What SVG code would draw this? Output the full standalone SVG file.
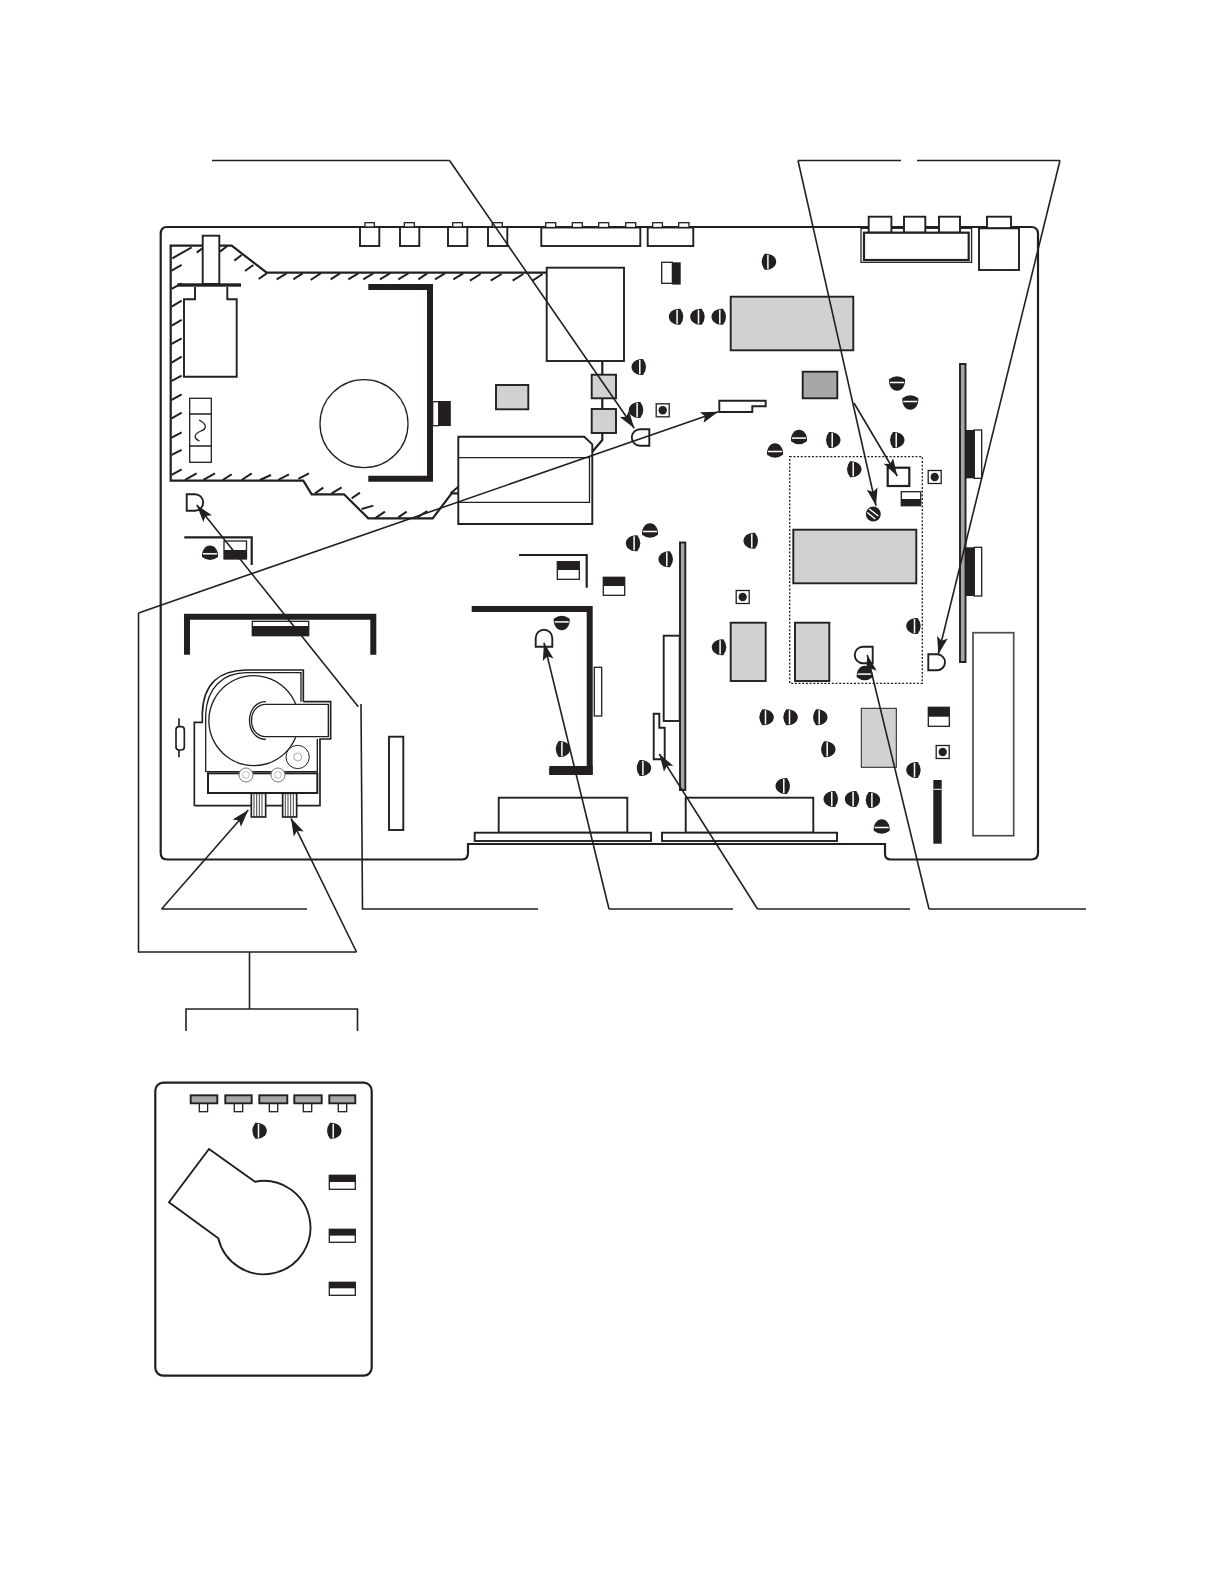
<svg xmlns="http://www.w3.org/2000/svg" width="1225" height="1585" viewBox="0 0 1225 1585">
<style>
.o{fill:none;stroke:#231f20;stroke-width:1.9}
.t{fill:none;stroke:#231f20;stroke-width:1.3}
.w{fill:#fff;stroke:#231f20;stroke-width:1.9}
.v{fill:#fff;stroke:#231f20;stroke-width:1.3}
.g{fill:#d1d1d1;stroke:#231f20;stroke-width:1.9}
.d{fill:#a7a7a7;stroke:#231f20;stroke-width:1.9}
.k{fill:#231f20}
.b{fill:none;stroke:#231f20;stroke-width:6;stroke-linejoin:miter}
.l{fill:none;stroke:#231f20;stroke-width:1.6}
.a{fill:none;stroke:#231f20;stroke-width:1.6;marker-end:url(#ah)}
.h{stroke-width:2.2}
</style>
<defs>
<marker id="ah" markerUnits="userSpaceOnUse" markerWidth="20" markerHeight="14" refX="19" refY="7" orient="auto" viewBox="0 0 20 14"><path d="M19,7 L1.500,1.500 L5,7 L1.500,12.500 Z" fill="#231f20"/></marker>
<g id="s"><path class="k" d="M-4,-8 C3,-8.500 7.500,-4.500 7.500,0 C7.500,4.500 3,8.500 -4,8 Q-7,4 -7,0 Q-7,-4 -4,-8 Z"/><path d="M-0.800,-7 V7" stroke="#fff" stroke-width="1.500"/></g>
<g id="p"><rect x="-6.500" y="-6.500" width="13" height="13" class="v"/><circle r="4.200" class="k"/></g>
</defs>
<rect width="1225" height="1585" fill="#fff"/>

<g id="board">
<path class="o h" d="M167,227 H1031 Q1038,227 1038,234 V853 Q1038,859.500 1031,859.500 H891 Q885,859.500 885,854 V844 H468 V853 Q468,859.500 462,859.500 H167 Q160.700,859.500 160.700,853 V234 Q160.700,227 167,227 Z"/>
</g>

<g id="hatched-area">
<path class="o h" d="M546.700,272.700 H266.700 L231.700,245.700 H170.700 V480.700 H303.300 L311.700,494.300 H344 L368.300,518.300 H432.700 L451.700,493.300 H458.300"/>
<g transform="translate(140,210) scale(.3333)" fill="none" stroke="#231f20" stroke-width="6">
<path d="M97,145 L155,112 M170,128 L186,116 M240,125 L262,108 M283,152 L305,135 M315,183 L340,165 M356,207 L380,190 M410,208 L440,190 M460,208 L488,190 M512,210 L542,190 M572,208 L600,190 M625,208 L655,190 M670,208 L700,190 M720,208 L750,190 M775,208 L805,190 M835,208 L862,190 M885,208 L915,190 M940,208 L970,190 M990,212 L1022,192 M1052,212 L1085,192 M1118,212 L1150,192 M1178,212 L1208,192"/>
<path d="M95,182 L125,165 M95,237 L125,220 M95,290 L125,272 M95,347 L125,330 M95,402 L125,385 M95,458 L125,440 M95,513 L125,497 M95,570 L125,553 M95,625 L125,608 M95,683 L125,667 M95,735 L125,720 M95,795 L125,778"/>
<path d="M135,810 L170,790 M190,810 L225,790 M248,810 L275,793 M305,810 L335,790 M360,810 L393,795 M415,810 L447,793 M475,807 L507,790 M525,850 L550,833 M575,850 L605,832 M635,865 L660,848 M665,897 L700,887 M705,925 L735,905 M775,922 L800,905 M832,922 L862,903 M932,850 L955,830"/>
</g>
</g>

<g id="top-connectors">
<g id="jack-1"><rect class="w" x="360" y="227" width="19.300" height="19"/><rect class="v" x="365" y="222.700" width="9.300" height="4.300"/></g>
<g id="jack-2"><rect class="w" x="400" y="227" width="19.300" height="19"/><rect class="v" x="404.300" y="222.700" width="10" height="4.300"/></g>
<g id="jack-3"><rect class="w" x="448" y="227" width="19.300" height="19"/><rect class="v" x="452.700" y="222.700" width="9.700" height="4.300"/></g>
<g id="jack-4"><rect class="w" x="488" y="227" width="19.300" height="19"/><rect class="v" x="492.300" y="222.700" width="10" height="4.300"/></g>
<g id="conn-5"><rect class="w" x="541.300" y="227.500" width="99" height="18.500"/>
<rect class="v" x="545.700" y="222.700" width="10" height="4.800"/><rect class="v" x="572.300" y="222.700" width="10" height="4.800"/><rect class="v" x="598.700" y="222.700" width="10" height="4.800"/><rect class="v" x="625.700" y="222.700" width="10" height="4.800"/></g>
<g id="conn-6"><rect class="w" x="647.700" y="227.500" width="45.600" height="18.500"/><rect class="v" x="652.700" y="222.700" width="9.700" height="4.800"/><rect class="v" x="678.700" y="222.700" width="10.300" height="4.800"/></g>
<g id="rca-block"><rect class="v" x="861" y="228.300" width="110.600" height="34"/>
<rect class="w" x="868.700" y="216.700" width="22.700" height="16"/><rect class="w" x="904" y="216.700" width="21.300" height="16"/><rect class="w" x="939" y="216.700" width="21" height="16"/>
<rect class="w h" x="864" y="232.700" width="104.700" height="27.300"/></g>
<g id="jack-right"><rect class="w" x="987" y="216.700" width="24" height="11.700"/><rect class="w" x="979" y="228.300" width="40" height="41.700"/></g>
</g>

<g id="stem-assembly">
<rect class="w" x="202.700" y="235.700" width="16.600" height="48.300"/>
<rect class="k" x="177.300" y="283.300" width="63.700" height="3.400"/>
<path class="o" d="M195,287 V299.300 H184 V376.700 H236.700 V299.300 H227.300 V287"/>
</g>
<g id="fuse"><rect class="t" x="189.700" y="398.300" width="21.600" height="64"/><path class="t" d="M189.700,414 H211.300 M189.700,446 H211.300"/><path class="t" d="M199,420 C207,424 207,429 201,431 C194,434 193,438 199.500,441"/></g>
<g id="shield-1"><path class="b" d="M368.300,287 H430 V478.700 H368.300"/><circle class="t" cx="364" cy="423.700" r="44"/><rect class="t" x="432.700" y="401.700" width="6" height="24"/><rect class="k" x="438.300" y="401" width="12.500" height="25"/></g>
<g id="chip-a"><rect class="g" x="496" y="385" width="32.300" height="24.300"/></g>
<g id="module-a"><path class="w" d="M458.300,436.700 H584.300 L592.300,444.300 V524 H458.300 Z"/><path class="t" d="M458.300,457.700 H589.500 V502.300 H458.300"/></g>
<g id="box-b"><rect class="w" x="546.700" y="267.700" width="77.300" height="93.300"/></g>
<g id="filter-chain"><path class="o h" d="M602.300,361 V375 M602.300,398.300 V409 M602.300,433 V440 L592.300,451.700"/><rect class="g" x="591.700" y="374.700" width="24.300" height="23.600"/><rect class="g" x="591.700" y="409" width="24.300" height="24"/></g>
<g id="half-top"><rect class="t" x="661.700" y="262.300" width="10.700" height="21"/><rect class="k" x="672.300" y="262.300" width="8.400" height="22.300"/></g>
<g id="ic-main"><rect class="g" x="730.700" y="296.700" width="122.600" height="53.600"/></g>
<g id="ic-dark"><rect class="d" x="802.700" y="371.700" width="34.600" height="26.600"/></g>
<g id="part-tab"><path class="w" d="M719.300,400.700 H765.700 V406.300 H752.300 V412 H719.300 Z"/></g>
<g id="led-1"><path class="w" d="M649.300,429.300 V445.700 H640 A8.200,8.200 0 0 1 640,429.300 Z"/></g>

<g id="subboard"><rect x="789.700" y="456.700" width="132.600" height="226.600" fill="none" stroke="#231f20" stroke-width="1.300" stroke-dasharray="2 1.700"/></g>
<g id="sq"><rect class="w h" x="887.700" y="467.700" width="21.600" height="18.300"/></g>
<g id="half-a"><rect class="t" x="901.300" y="491.700" width="19.400" height="14"/><rect class="k" x="901.300" y="499" width="19.400" height="7"/></g>
<g id="bar-right"><rect class="d" x="960" y="364" width="5.500" height="298"/>
<rect class="k" x="965.700" y="430" width="8.600" height="48.300"/><rect class="t" x="974.300" y="430" width="7.400" height="48.300"/>
<rect class="k" x="965.700" y="547.300" width="8.600" height="48.700"/><rect class="t" x="974.300" y="547.300" width="7.400" height="48.700"/></g>
<g id="ic-sub"><rect class="g" x="793.300" y="529.700" width="123" height="53.600"/></g>
<g id="ic-l"><rect class="g" x="730.700" y="622.700" width="35" height="58.300"/></g>
<g id="ic-r"><rect class="g" x="795" y="622.700" width="34.300" height="58.300"/></g>
<g id="led-2"><path class="w" d="M872.700,646.700 H863 A8.300,8.300 0 0 0 863,663.300 H872.700 Z"/></g>
<g id="led-3"><path class="w" d="M928.300,654.300 H937 A8,8 0 0 1 937,670.300 H928.300 Z"/></g>
<g id="ic-low"><rect class="g" style="stroke-width:1" x="861.300" y="708.300" width="35" height="59"/></g>
<g id="half-b"><rect class="t" x="928.300" y="707.300" width="21" height="19"/><rect class="k" x="928.300" y="707.300" width="21" height="9.400"/></g>
<g id="black-bar"><rect class="k" x="933.300" y="780" width="8.400" height="63.700"/><path d="M933.300,789.300 H941.700" stroke="#fff" stroke-width="1"/></g>
<g id="long-rect"><rect x="973" y="632.700" width="40.700" height="203" fill="#fff" stroke="#4d4d4d" stroke-width="1.700"/></g>

<g id="bracket-small"><path class="o h" d="M519,555 H586.700 V587.700"/><rect class="t" x="557.300" y="561.700" width="22" height="17.600"/><rect class="k" x="557.300" y="561.700" width="22" height="8.300"/><rect class="t" x="603.300" y="577.300" width="21.400" height="18"/><rect class="k" x="603.300" y="577.300" width="21.400" height="8.700"/></g>
<g id="bracket-left"><path class="o h" d="M184.300,537.300 H251.700 V565"/><rect class="t" x="224" y="541" width="22.500" height="18"/><rect class="k" x="224" y="550" width="22.500" height="9"/></g>
<g id="shield-2"><path class="b" d="M471.700,609 H589.700 V771 H549.300"/><path class="k" d="M549.300,766 H592.700 V775 H549.300 Z"/><rect class="v" x="594.300" y="667.300" width="7.400" height="48.700"/></g>
<g id="led-4"><path class="w" d="M535.700,646.700 V638 A8.300,8.300 0 0 1 552.300,638 V646.700 Z"/></g>
<g id="bar-mid"><rect class="w" x="663.700" y="635.700" width="16" height="85.300"/><rect class="d" x="680" y="542.500" width="5.300" height="247.500"/></g>
<g id="part-l"><path class="w" d="M653.700,713.700 H659.300 V727.700 H664.700 V759.300 H653.700 Z"/></g>
<g id="dins">
<rect class="w" x="498.700" y="797.700" width="128.600" height="35"/><rect class="w" x="474.700" y="832.700" width="176.300" height="8.300"/>
<rect class="w" x="685.700" y="797.700" width="127.600" height="35"/><rect class="w" x="662" y="832.700" width="175" height="8.300"/></g>

<g id="shield-3"><path class="b" d="M187,654.700 V616.700 H373.300 V654.700"/><rect class="t" x="252.300" y="621.300" width="56.400" height="14.400"/><rect class="k" x="252.300" y="626" width="56.400" height="9.700"/></g>
<g id="narrow-rect"><rect class="w" x="389" y="736.700" width="14.300" height="93.300"/></g>
<g id="resistor" transform="translate(140,600) scale(.3333)" fill="none" stroke="#231f20"><path d="M117,355 V472" stroke-width="5"/><rect x="108" y="380" width="25" height="70" rx="9" fill="#fff" stroke-width="5"/></g>
<g id="mechanism" transform="translate(140,600) scale(.3333)" fill="none" stroke="#231f20" stroke-width="4.500">
<path stroke-width="5" d="M163,617 V367 H187 V340 C190,250 240,210 320,210 H490 V305 M490,305 H572 V417 H540 V617 H163"/>
<path d="M197,515 V345 C200,262 250,218 320,218 H483 V305 M532,417 V515 H197" stroke-width="4"/>
<path d="M467,312 A135,135 0 1 0 467,412" stroke-width="4"/>
<path d="M565,313 H378 C320,313 320,410 378,410 H565 Z" stroke-width="4"/>
<path d="M378,305 C312,305 312,418 378,418" stroke-width="4"/>
<circle cx="473" cy="471" r="35" fill="#fff" stroke-width="3"/><circle cx="473" cy="471" r="12" stroke-width="1.500" stroke="#555"/>
<rect x="204" y="520" width="328" height="59" stroke-width="6" fill="#fff"/>
<circle cx="318" cy="525" r="21" fill="#fff" stroke="#777" stroke-width="3"/><circle cx="318" cy="525" r="10" stroke="#777" stroke-width="1.500"/>
<circle cx="414" cy="525" r="21" fill="#fff" stroke="#777" stroke-width="3"/><circle cx="414" cy="525" r="10" stroke="#777" stroke-width="1.500"/>
<rect x="334" y="580" width="43" height="71" fill="#fff" stroke-width="5"/><path d="M342,580 V651 M350,580 V651 M358,580 V651 M366,580 V651" stroke-width="2.500"/>
<rect x="428" y="580" width="42" height="71" fill="#fff" stroke-width="5"/><path d="M436,580 V651 M444,580 V651 M452,580 V651 M460,580 V651" stroke-width="2.500"/>
</g>

<g id="posts">
<use href="#p" transform="translate(662.700,410.300)"/><use href="#p" transform="translate(934.700,477)"/><use href="#p" transform="translate(742.700,597)"/><use href="#p" transform="translate(942.700,752)"/>
</g>
<g id="screws">
<use href="#s" transform="translate(768.700,261.700)"/>
<use href="#s" transform="translate(676.300,316.700) scale(-1,1)"/><use href="#s" transform="translate(697.700,316.700) scale(-1,1)"/><use href="#s" transform="translate(719,316.700) scale(-1,1)"/>
<use href="#s" transform="translate(639,367) scale(-1,1)"/><use href="#s" transform="translate(636.300,410) scale(-1,1)"/>
<use href="#s" transform="translate(897,383.300) rotate(90)"/><use href="#s" transform="translate(910.300,402.300) rotate(90)"/>
<use href="#s" transform="translate(799,437.300) rotate(-90)"/><use href="#s" transform="translate(775,450.700) rotate(-90)"/>
<use href="#s" transform="translate(833,440)"/><use href="#s" transform="translate(897,440)"/><use href="#s" transform="translate(854,469.300)"/>
<use href="#s" transform="translate(650,530.700) rotate(-90)"/><use href="#s" transform="translate(633.300,543.300) scale(-1,1)"/><use href="#s" transform="translate(751,540.700) scale(-1,1)"/>
<use href="#s" transform="translate(666,559.300) scale(-1,1)"/><use href="#s" transform="translate(561.700,622.700) rotate(90)"/><use href="#s" transform="translate(562.700,749)"/><use href="#s" transform="translate(643.700,768)"/>
<use href="#s" transform="translate(719.300,647.300) scale(-1,1)"/><use href="#s" transform="translate(913.700,626) scale(-1,1)"/><use href="#s" transform="translate(864.700,673.300) rotate(-90)"/>
<use href="#s" transform="translate(766.300,717.300)"/><use href="#s" transform="translate(790.300,717.300)"/><use href="#s" transform="translate(820,717.300)"/><use href="#s" transform="translate(828,749.300)"/>
<use href="#s" transform="translate(783,786) scale(-1,1)"/><use href="#s" transform="translate(913.700,770) scale(-1,1)"/>
<use href="#s" transform="translate(831,799) scale(-1,1)"/><use href="#s" transform="translate(852.300,799) scale(-1,1)"/><use href="#s" transform="translate(872.700,800)"/>
<use href="#s" transform="translate(881.700,826.700) rotate(-90)"/><use href="#s" transform="translate(210,553) rotate(-90)"/>
<g id="screw-striped" transform="translate(873.300,514)"><circle r="7.500" class="k"/><path d="M-6,-1.500 L2,5 M-4,-5 L5,2" stroke="#fff" stroke-width="1.500"/></g>
</g>

<g id="connectors">
<path class="l" d="M212,160.500 H449.500"/><path class="a" d="M449.500,160.500 L634.300,428.300"/>
<path class="l" d="M798,160.500 H901 M917,160.500 H1060"/>
<path class="a" d="M798,160.500 L876,505.700"/><path class="a" d="M854,403 L897.300,476"/><path class="a" d="M1060,160.500 L938.300,654.300"/>
<path class="a" d="M138.500,613 L718.300,411.700"/><path class="l" d="M138.500,613 V952 H356.500"/><path class="a" d="M356.500,952 L291,818.300"/>
<path class="l" d="M161.600,909 H307"/><path class="a" d="M161.600,909 L248.300,810"/>
<path class="l" d="M249.500,952 V1009 M186,1031 V1009 H357.500 V1031"/>
<path class="l" d="M361,704 L362.500,909 H538"/><path class="a" d="M358.300,706.700 L196.700,505"/>
<path class="l" d="M609,909 H733"/><path class="a" d="M609,909 L544,642.700"/>
<path class="l" d="M757.500,909 H910"/><path class="a" d="M757.500,909 L659.300,754"/>
<path class="l" d="M929,909 H1086"/><path class="a" d="M929,909 L867.300,655"/>
</g>
<g id="led-5"><path class="o" d="M186.700,494.300 H195 A8.200,8.200 0 0 1 195,510.700 H186.700 Z"/></g>

<g id="lower-panel">
<rect class="o h" x="155.300" y="1082.700" width="216.400" height="293" rx="8"/>
<g id="lower-tabs">
<rect class="v" x="199.300" y="1103.300" width="8.300" height="8.400"/><rect class="d" x="190.700" y="1095.300" width="26.600" height="8"/>
<rect class="v" x="234.300" y="1103.300" width="8.400" height="8.400"/><rect class="d" x="225.300" y="1095.300" width="26.400" height="8"/>
<rect class="v" x="269.300" y="1103.300" width="8.400" height="8.400"/><rect class="d" x="259.300" y="1095.300" width="28" height="8"/>
<rect class="v" x="303.300" y="1103.300" width="8.400" height="8.400"/><rect class="d" x="294.300" y="1095.300" width="27.400" height="8"/>
<rect class="v" x="338.300" y="1103.300" width="8.400" height="8.400"/><rect class="d" x="329.300" y="1095.300" width="26" height="8"/>
</g>
<use href="#s" transform="translate(259.300,1130.700)"/><use href="#s" transform="translate(334,1130.700)"/>
<rect class="t" x="329.300" y="1175.300" width="26" height="14"/><rect class="k" x="329.300" y="1175.300" width="26" height="6.700"/>
<rect class="t" x="329.300" y="1229.300" width="26" height="13"/><rect class="k" x="329.300" y="1229.300" width="26" height="6.300"/>
<rect class="t" x="329.300" y="1282.300" width="26" height="13"/><rect class="k" x="329.300" y="1282.300" width="26" height="6"/>
<path class="o" d="M209,1149 L255,1181.700 A46.700,46.700 0 1 1 218.300,1238.300 L169,1202.300 Z"/>
</g>
</svg>
